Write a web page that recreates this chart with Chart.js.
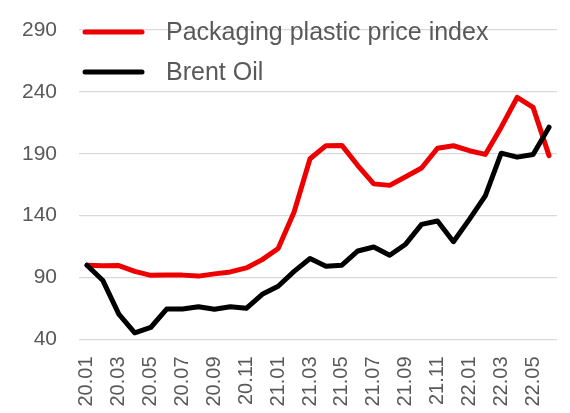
<!DOCTYPE html>
<html>
<head>
<meta charset="utf-8">
<script src="https://cdn.jsdelivr.net/npm/chart.js@4/dist/chart.umd.min.js"></script>
<style>
  html, body { margin: 0; padding: 0; background: #fff; }
  #wrap { width: 570px; height: 413px; }
</style>
</head>
<body>
<div id="wrap"><canvas id="chart" width="570" height="413"></canvas></div>
<script>
// Monthly index, January 2020 = 100
const months = [
  '20.01','20.02','20.03','20.04','20.05','20.06','20.07','20.08','20.09','20.10','20.11','20.12',
  '21.01','21.02','21.03','21.04','21.05','21.06','21.07','21.08','21.09','21.10','21.11','21.12',
  '22.01','22.02','22.03','22.04','22.05','22.06'
];
const plasticIndex = [
  100, 99.5, 99.7, 95, 91.8, 92.2, 92, 91.2, 93, 94.6, 97.8, 104.5,
  113.5, 143, 186, 196.6, 196.8, 180.5, 165.7, 164.5, 171.5, 178.5, 194.5, 196.5,
  192.5, 189.5, 211.5, 235.5, 227.5, 188.5
];
const brentOil = [
  100, 87.6, 60.5, 45.4, 49.7, 64.6, 64.6, 66.5, 64.4, 66.5, 65.2, 76.5,
  83, 95, 105.4, 99.2, 100, 111.5, 114.7, 108, 117, 133, 135.7, 119,
  137, 156, 190.5, 187.3, 189.5, 211.5
];
const seriesNames = ['Packaging plastic price index', 'Brent Oil'];
const yMin = 40, yMax = 290, yStep = 50;

const textGrey = '#595959';

// Legend drawn inside the plot area, top-left
const insideLegend = {
  id: 'insideLegend',
  afterDatasetsDraw(chart) {
    const ctx = chart.ctx;
    const x0 = 85, x1 = 142, tx = 166;
    const rows = [32, 72];
    ctx.save();
    chart.data.datasets.forEach((ds, i) => {
      const y = rows[i];
      ctx.strokeStyle = ds.borderColor;
      ctx.lineWidth = 5;
      ctx.lineCap = 'round';
      ctx.beginPath();
      ctx.moveTo(x0, y);
      ctx.lineTo(x1, y);
      ctx.stroke();
      ctx.fillStyle = textGrey;
      ctx.font = '25px "Liberation Sans", Arial, sans-serif';
      ctx.textBaseline = 'middle';
      ctx.textAlign = 'left';
      ctx.fillText(ds.label, tx, y + 1);
    });
    ctx.restore();
  }
};

new Chart(document.getElementById('chart'), {
  type: 'line',
  data: {
    labels: months,
    datasets: [
      {
        label: seriesNames[0],
        data: plasticIndex,
        borderColor: '#EE0000',
        borderWidth: 5,
        pointRadius: 0,
        tension: 0,
        borderJoinStyle: 'round',
        borderCapStyle: 'round',
        order: 1
      },
      {
        label: seriesNames[1],
        data: brentOil,
        borderColor: '#000000',
        borderWidth: 5,
        pointRadius: 0,
        tension: 0,
        borderJoinStyle: 'round',
        borderCapStyle: 'round',
        order: 0
      }
    ]
  },
  options: {
    responsive: false,
    animation: false,
    events: [],
    layout: { padding: { top: 30, right: 13, left: 0, bottom: 0 } },
    plugins: {
      legend: { display: false },
      tooltip: { enabled: false }
    },
    scales: {
      x: {
        offset: true,
        grid: { display: false, drawTicks: false },
        border: { display: false },
        ticks: {
          autoSkip: false,
          minRotation: 90,
          maxRotation: 90,
          padding: 17,
          color: textGrey,
          font: { family: '"Liberation Sans", Arial, sans-serif', size: 20 },
          callback(value, index) {
            return index % 2 === 0 ? months[index] : '';
          }
        },
        afterFit(scale) {
          scale.height = 73.5;
          scale.paddingLeft = 0;
          scale.paddingRight = 0;
        }
      },
      y: {
        min: yMin,
        max: yMax,
        grid: { color: '#D9D9D9', lineWidth: 1.3, drawTicks: false },
        border: { display: false },
        ticks: {
          stepSize: yStep,
          padding: 22,
          color: textGrey,
          font: { family: '"Liberation Sans", Arial, sans-serif', size: 21 }
        },
        afterFit(scale) {
          scale.width = 79;
          scale.paddingTop = 0;
          scale.paddingBottom = 0;
        }
      }
    }
  },
  plugins: [insideLegend]
});
</script>
</body>
</html>
